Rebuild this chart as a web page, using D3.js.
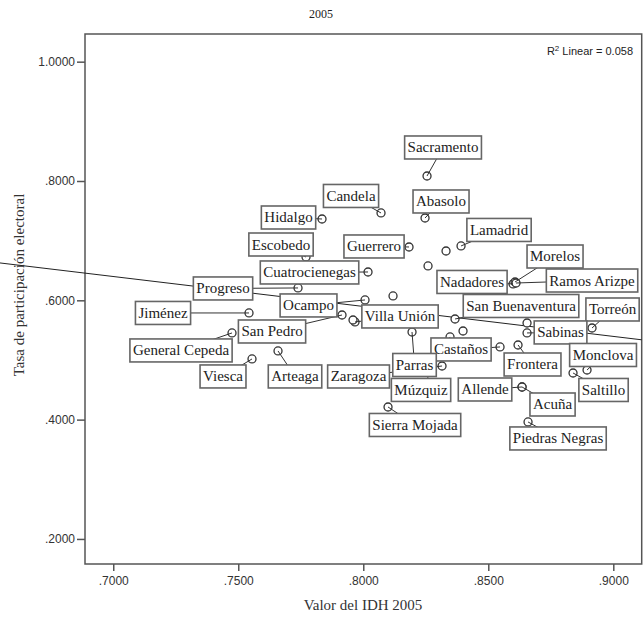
<!DOCTYPE html>
<html>
<head>
<meta charset="utf-8">
<script src="https://cdn.jsdelivr.net/npm/d3@7"></script>
<style>
  body { margin: 0; background: #fff; }
  svg { display: block; }
  .tick text { font-family: 'Liberation Sans', Arial, sans-serif; font-size: 12px; fill: #333; }
  .tick line, .domain { stroke: #555; }
  .lbl text { font-family: 'Liberation Serif', 'Times New Roman', serif; font-size: 15px; fill: #222; }
</style>
</head>
<body>
<div class="chart"></div>
<script>
// municipios de Coahuila ('' = punto sin etiqueta)
const municipios = [
  'Sacramento', 'Candela', 'Hidalgo', 'Abasolo', 'Lamadrid', '', 'Guerrero', 'Escobedo',
  'Cuatrocienegas', '', 'Nadadores', 'Morelos', 'Ramos Arizpe', 'Progreso', 'Ocampo', '',
  'Jiménez', 'San Pedro', 'Villa Unión', '', 'San Buenaventura', 'Torreón', 'Sabinas', '',
  'General Cepeda', 'Castaños', '', 'Múzquiz', 'Frontera', 'Monclova', 'Saltillo', 'Parras',
  'Zaragoza', 'Allende', 'Acuña', 'Piedras Negras', 'Sierra Mojada', 'Viesca', 'Arteaga'
];
// Valor del IDH 2005
const idh = [
  0.8255, 0.8071, 0.7835, 0.8247, 0.8391, 0.8331, 0.8183, 0.7771,
  0.8019, 0.8259, 0.8599, 0.8607, 0.8611, 0.7739, 0.8007, 0.8119,
  0.7543, 0.7915, 0.7967, 0.7959, 0.8367, 0.8915, 0.8655, 0.8655,
  0.7475, 0.8547, 0.8399, 0.8347, 0.8619, 0.8895, 0.8839, 0.8195,
  0.8315, 0.8635, 0.8635, 0.8659, 0.8099, 0.7555, 0.7659
];
// Tasa de participación electoral
const participacion = [
  0.8084, 0.7464, 0.7363, 0.7380, 0.6911, 0.6827, 0.6894, 0.6726,
  0.6475, 0.6576, 0.6274, 0.6307, 0.6290, 0.6207, 0.6006, 0.6073,
  0.5788, 0.5754, 0.5637, 0.5670, 0.5687, 0.5536, 0.5453, 0.5620,
  0.5453, 0.5218, 0.5486, 0.5386, 0.5251, 0.4832, 0.4782, 0.5469,
  0.4899, 0.4547, 0.4547, 0.3961, 0.4212, 0.5017, 0.5151
];
const xTicks = [0.70, 0.75, 0.80, 0.85, 0.90];
const yTicks = [0.2, 0.4, 0.6, 0.8, 1.0];
// recta de ajuste lineal
const fitIntercept = 0.9913;
const fitSlope = -0.502;
const r2 = 0.058;

// posición del centro de cada etiqueta respecto a su punto (px)
const labelOffsets = {
  'Sacramento': [16, -28.5], 'Candela': [-30, -17], 'Hidalgo': [-33.5, -1.5],
  'Abasolo': [16, -16.5], 'Lamadrid': [38, -16], 'Guerrero': [-35, -0.5],
  'Escobedo': [-25, -12.5], 'Cuatrocienegas': [-58.5, 0.5], 'Morelos': [40, -25.5],
  'Nadadores': [-41, -2], 'Ramos Arizpe': [76, -2.5], 'Progreso': [-75, 0.5],
  'Ocampo': [-56.5, 5.5], 'Jiménez': [-86, 0], 'San Pedro': [-70, 16.5],
  'General Cepeda': [-51, 17.5], 'Villa Unión': [45, -5.5], 'San Buenaventura': [66, -13],
  'Torreón': [20.5, -18.5], 'Sabinas': [33.5, -0.5], 'Castaños': [-39, 2.5],
  'Frontera': [14.5, 19.5], 'Monclova': [16, -15], 'Saltillo': [30.5, 17],
  'Parras': [2.5, 33], 'Zaragoza': [-83.5, 10.5], 'Múzquiz': [-29, 53],
  'Allende': [-37, 2.5], 'Acuña': [30.5, 17.5], 'Piedras Negras': [30, 16.5],
  'Sierra Mojada': [27, 18], 'Viesca': [-29, 17.5], 'Arteaga': [17, 25.5]
};

const data = municipios.map((m, i) => ({ name: m, x: idh[i], y: participacion[i] }));

const W = 643, H = 618;
const margin = { top: 34, right: 1.3, bottom: 54, left: 85 };
const width = W - margin.left - margin.right;
const height = H - margin.top - margin.bottom;

const svg = d3.select('.chart').append('svg').attr('width', W).attr('height', H);

const xScale = d3.scaleLinear().domain([0.6887, 0.91136]).range([margin.left, margin.left + width]);
const yScale = d3.scaleLinear().domain([0.158, 1.0464]).range([margin.top + height, margin.top]);

const fmt = (v) => d3.format('.4f')(v).replace(/^0/, '');

// título
svg.append('text').attr('x', 321).attr('y', 18).attr('text-anchor', 'middle')
  .style('font-family', 'Liberation Serif, serif').style('font-size', '12px').attr('fill', '#222')
  .text('2005');

// ejes
svg.append('g').attr('transform', `translate(0,${margin.top + height})`)
  .call(d3.axisBottom(xScale).tickValues(xTicks).tickFormat(fmt).tickSizeOuter(0).tickSize(7).tickPadding(5))
  .call((g) => g.select('.domain').remove());
svg.append('g').attr('transform', `translate(${margin.left},0)`)
  .call(d3.axisLeft(yScale).tickValues(yTicks).tickFormat(fmt).tickSizeOuter(0).tickSize(8).tickPadding(2))
  .call((g) => g.select('.domain').remove());
svg.selectAll('.tick line').attr('stroke-width', 1.5);

// marco
svg.append('rect').attr('x', margin.left).attr('y', margin.top)
  .attr('width', width).attr('height', height)
  .attr('fill', 'none').attr('stroke', '#555').attr('stroke-width', 1.5);

// títulos de ejes
svg.append('text').attr('x', 363).attr('y', 610).attr('text-anchor', 'middle')
  .style('font-family', 'Liberation Serif, serif').style('font-size', '15px').attr('fill', '#333')
  .text('Valor del IDH 2005');
svg.append('text').attr('transform', 'translate(24,285) rotate(-90)').attr('text-anchor', 'middle')
  .style('font-family', 'Liberation Serif, serif').style('font-size', '15px').attr('fill', '#333')
  .text('Tasa de participación electoral');

// R2
const r2Text = svg.append('text').attr('x', 633).attr('y', 55).attr('text-anchor', 'end')
  .style('font-family', 'Liberation Sans, Arial, sans-serif').style('font-size', '11px').attr('fill', '#222');
r2Text.append('tspan').text('R');
r2Text.append('tspan').attr('dy', -4).style('font-size', '8px').text('2');
r2Text.append('tspan').attr('dy', 4).text(' Linear = ' + r2.toFixed(3));

// recta de ajuste
const x0 = xScale.invert(0), x1 = xScale.domain()[1];
svg.append('line')
  .attr('x1', xScale(x0)).attr('y1', yScale(fitIntercept + fitSlope * x0))
  .attr('x2', xScale(x1)).attr('y2', yScale(fitIntercept + fitSlope * x1))
  .attr('stroke', '#222').attr('stroke-width', 1);

// puntos
svg.append('g').selectAll('circle').data(data).join('circle')
  .attr('cx', (d) => xScale(d.x)).attr('cy', (d) => yScale(d.y)).attr('r', 4)
  .attr('fill', '#fff').attr('stroke', '#333').attr('stroke-width', 1.3);

// etiquetas
const labeled = data.filter((d) => d.name !== '');
const leaders = svg.append('g');
const labels = svg.append('g').attr('class', 'lbl');

labeled.forEach((d) => {
  const px = xScale(d.x), py = yScale(d.y);
  const [dx, dy] = labelOffsets[d.name];
  const cx = px + dx, cy = py + dy;
  leaders.append('line').attr('x1', px).attr('y1', py).attr('x2', cx).attr('y2', cy)
    .attr('stroke', '#333').attr('stroke-width', 1);
  const g = labels.append('g');
  const rect = g.append('rect');
  const t = g.append('text').attr('x', cx).attr('y', cy + 5).attr('text-anchor', 'middle').text(d.name);
  const w = t.node().getComputedTextLength() + 6;
  rect.attr('x', cx - w / 2).attr('y', cy - 11.5).attr('width', w).attr('height', 23)
    .attr('fill', '#fff').attr('stroke', '#666').attr('stroke-width', 1.6);
});
</script>
</body>
</html>
